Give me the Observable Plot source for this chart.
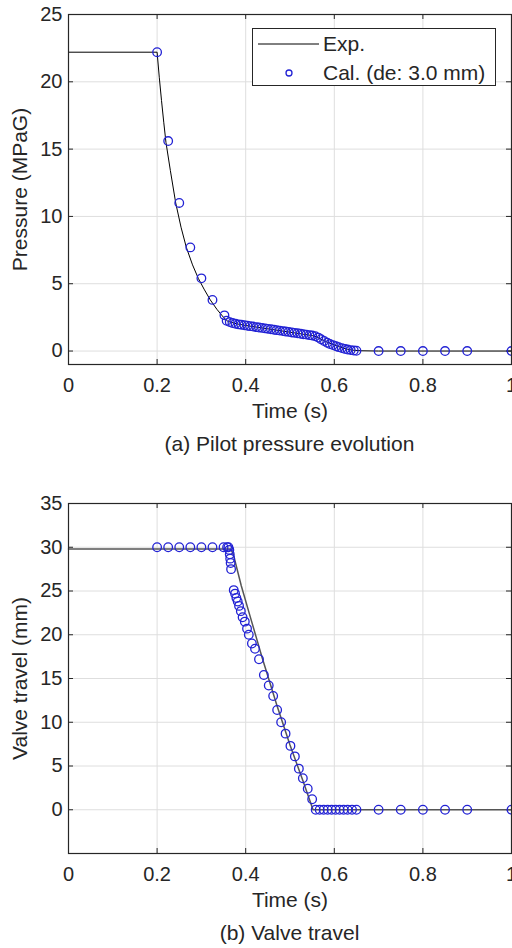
<!DOCTYPE html>
<html>
<head>
<meta charset="utf-8">
<script src="https://cdn.jsdelivr.net/npm/d3@7"></script>
<script src="https://cdn.jsdelivr.net/npm/@observablehq/plot@0.6"></script>
<style>
  body { margin: 0; background: #fff; }
  #root { position: relative; width: 512px; height: 948px; overflow: hidden; background: #fff;
          font-family: "Liberation Sans", Arial, Helvetica, sans-serif; color: #262626; }
  .panel { position: absolute; left: 0; }
  .caption { position: absolute; left: 68px; width: 443px; text-align: center; font-size: 21px; line-height: 22px; color: #262626; }
  .legend { position: absolute; background: #fff; border: 1px solid #262626; box-sizing: border-box; font-size: 21px; line-height: 22px; }
  .legend .lt { position: absolute; left: 70px; white-space: nowrap; }
</style>
</head>
<body>
<div id="root">
  <div class="panel" id="pa" style="top:0px"></div>
  <div class="caption" style="top:433px">(a) Pilot pressure evolution</div>
  <div class="panel" id="pb" style="top:489px"></div>
  <div class="caption" style="top:922px">(b) Valve travel</div>
  <div class="legend" style="left:252px;top:28px;width:244px;height:58px">
    <svg width="70" height="58" style="position:absolute;left:0;top:0">
      <line x1="5" x2="66" y1="15" y2="15" stroke="#000" stroke-width="1"></line>
      <circle cx="36" cy="44" r="3" fill="none" stroke="#2222d4" stroke-width="1.3"></circle>
    </svg>
    <div class="lt" style="top:4px">Exp.</div>
    <div class="lt" style="top:33px">Cal. (de: 3.0 mm)</div>
  </div>
</div>
<script>
// ---------- shared ----------
const xTicks = [0, 0.2, 0.4, 0.6, 0.8, 1];
const xLabel = "Time (s)";

// ---------- (a) Pilot pressure ----------
const yTicksA = [0, 5, 10, 15, 20, 25];
const yLabelA = "Pressure (MPaG)";
const expTimeA = [0, 0.200, 0.205, 0.210, 0.215, 0.220, 0.230, 0.242, 0.254, 0.266, 0.280, 0.293, 0.306, 0.320, 0.335, 0.350, 0.360, 0.380, 0.400, 0.450, 0.500, 0.550, 0.560, 0.570, 0.580, 0.590, 0.600, 0.610, 0.620, 0.630, 0.640, 0.660, 0.700, 1.000];
const expPressA = [22.2, 22.2, 20.3, 18.6, 17.0, 15.5, 13.4, 11.0, 9.2, 7.7, 6.4, 5.4, 4.6, 3.8, 3.1, 2.5, 2.2, 2.02, 1.9, 1.65, 1.4, 1.15, 1.05, 0.88, 0.72, 0.58, 0.45, 0.33, 0.22, 0.13, 0.07, 0.02, 0, 0];
const calTimeA = [0.200, 0.225, 0.250, 0.275, 0.300, 0.325, 0.352,
  0.357, 0.364, 0.370, 0.377, 0.384, 0.390, 0.397, 0.404, 0.410, 0.417, 0.424, 0.430, 0.437, 0.444, 0.450,
  0.457, 0.464, 0.470, 0.477, 0.484, 0.490, 0.497, 0.504, 0.510, 0.517, 0.524, 0.530, 0.537, 0.544, 0.550,
  0.557, 0.564, 0.570, 0.577, 0.584, 0.590, 0.597, 0.604, 0.610, 0.617, 0.624, 0.630, 0.637, 0.644, 0.650,
  0.700, 0.750, 0.800, 0.850, 0.900, 1.000];
const calPressA = [22.2, 15.6, 11.0, 7.7, 5.4, 3.8, 2.65,
  2.25, 2.15, 2.08, 2.03, 1.98, 1.95, 1.92, 1.88, 1.85, 1.82, 1.78, 1.75, 1.72, 1.68, 1.65,
  1.62, 1.58, 1.55, 1.52, 1.48, 1.45, 1.42, 1.38, 1.35, 1.32, 1.28, 1.25, 1.22, 1.18, 1.15,
  1.10, 1.00, 0.88, 0.75, 0.62, 0.52, 0.44, 0.36, 0.29, 0.22, 0.16, 0.11, 0.07, 0.04, 0.02,
  0, 0, 0, 0, 0, 0];

// ---------- (b) Valve travel ----------
const yTicksB = [0, 5, 10, 15, 20, 25, 30, 35];
const yLabelB = "Valve travel (mm)";
const expTimeB = [0, 0.366, 0.372, 0.378, 0.384, 0.390, 0.410, 0.437, 0.470, 0.500, 0.530, 0.552, 1.000];
const expTravelB = [29.8, 29.8, 29.2, 28.0, 26.8, 25.6, 22.1, 17.4, 12.0, 7.4, 3.2, 0, 0];
const calTimeB = [0.200, 0.225, 0.250, 0.275, 0.300, 0.325, 0.350,
  0.358, 0.361, 0.363, 0.364, 0.365, 0.366, 0.367,
  0.373, 0.376, 0.379, 0.382, 0.385, 0.389, 0.393, 0.398, 0.403, 0.407, 0.414, 0.421, 0.430,
  0.441, 0.452, 0.462, 0.471, 0.480, 0.490, 0.501, 0.511, 0.520, 0.529, 0.540, 0.550,
  0.558, 0.567, 0.576, 0.585, 0.594, 0.603, 0.612, 0.621, 0.630, 0.640, 0.650,
  0.700, 0.750, 0.800, 0.850, 0.900, 1.000];
const calTravelB = [30.0, 30.0, 30.0, 30.0, 30.0, 30.0, 30.0,
  30.0, 30.0, 29.7, 29.2, 28.7, 28.2, 27.5,
  25.1, 24.7, 24.2, 23.8, 23.3, 22.7, 22.0, 21.5, 20.7, 20.0, 19.0, 18.4, 17.2,
  15.4, 14.2, 13.0, 11.4, 10.0, 8.7, 7.3, 6.1, 4.7, 3.6, 2.4, 1.2,
  0, 0, 0, 0, 0, 0, 0, 0, 0, 0, 0,
  0, 0, 0, 0, 0, 0];

const FONT = '"Liberation Sans", Arial, Helvetica, sans-serif';
const INK = "#262626";
const BLUE = "#2222d4";

function panel({expT, expV, calT, calV, yDomain, yTicks, yLabel, lineColor, lineWidth}) {
  const W = 512, H = 424, mt = 14, ml = 68, mr = 1, fh = 350, fw = 443;
  const mb = H - mt - fh;
  const tk = 5;
  const exp = expT.map((t, i) => ({t, v: expV[i]}));
  const cal = calT.map((t, i) => ({t, v: calV[i]}));
  return Plot.plot({
    width: W, height: H,
    marginTop: mt, marginLeft: ml, marginRight: mr, marginBottom: mb,
    style: {fontFamily: FONT, fontSize: "20px", color: INK, background: "transparent", overflow: "visible"},
    x: {domain: [0, 1]},
    y: {domain: yDomain},
    marks: [
      Plot.gridX(xTicks, {stroke: "#dedede", strokeOpacity: 1}),
      Plot.gridY(yTicks, {stroke: "#dedede", strokeOpacity: 1}),
      Plot.tickX(xTicks, {x: d => d, insetTop: fh - tk, stroke: INK}),
      Plot.tickX(xTicks, {x: d => d, insetBottom: fh - tk, stroke: INK}),
      Plot.tickY(yTicks, {y: d => d, insetRight: fw - tk, stroke: INK}),
      Plot.tickY(yTicks, {y: d => d, insetLeft: fw - tk, stroke: INK}),
      Plot.axisX(xTicks, {tickSize: 0, tickPadding: 13, tickFormat: d => String(d), label: null, fontSize: 20, fill: INK}),
      Plot.axisY(yTicks, {tickSize: 0, tickPadding: 6, tickFormat: d => String(d), label: null, fontSize: 20, fill: INK}),
      Plot.line(exp, {x: "t", y: "v", stroke: lineColor, strokeWidth: lineWidth}),
      Plot.dot(cal, {x: "t", y: "v", r: 4.3, stroke: BLUE, strokeWidth: 1.3}),
      Plot.frame({stroke: INK, strokeWidth: 1.2}),
      Plot.text([xLabel], {frameAnchor: "bottom", dy: 47, text: d => d, fontSize: 21, fill: INK, textAnchor: "middle", lineAnchor: "middle"}),
      Plot.text([yLabel], {frameAnchor: "left", dx: -48, rotate: -90, text: d => d, fontSize: 21, fill: INK, textAnchor: "middle", lineAnchor: "middle"})
    ]
  });
}

document.getElementById("pa").append(panel({
  expT: expTimeA, expV: expPressA, calT: calTimeA, calV: calPressA,
  yDomain: [-1, 25], yTicks: yTicksA, yLabel: yLabelA, lineColor: "#000", lineWidth: 1
}));
document.getElementById("pb").append(panel({
  expT: expTimeB, expV: expTravelB, calT: calTimeB, calV: calTravelB,
  yDomain: [-5, 35], yTicks: yTicksB, yLabel: yLabelB, lineColor: "#555", lineWidth: 1.5
}));
</script>
</body>
</html>
